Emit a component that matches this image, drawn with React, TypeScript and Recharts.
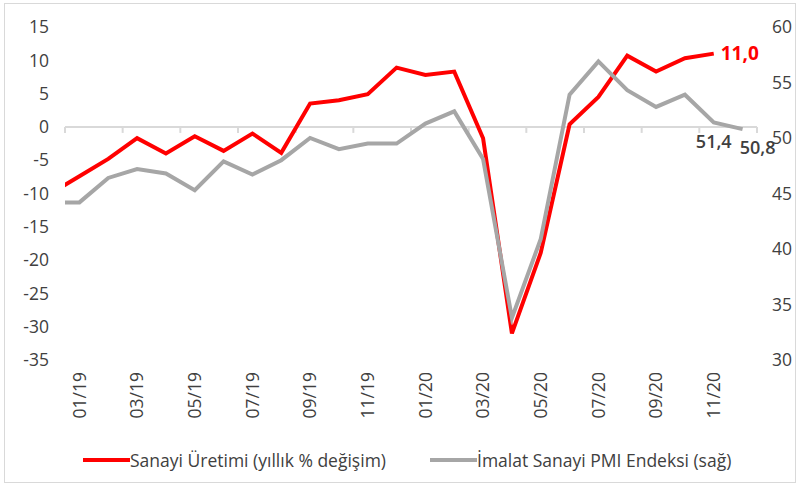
import { LineChart, Line, XAxis, YAxis, ReferenceLine, Legend, LabelList } from 'recharts';

// months shown on the category axis (12/18 only peeks in at the left edge)
const months = [
  '12/18', '01/19', '02/19', '03/19', '04/19', '05/19', '06/19', '07/19', '08/19', '09/19', '10/19', '11/19', '12/19',
  '01/20', '02/20', '03/20', '04/20', '05/20', '06/20', '07/20', '08/20', '09/20', '10/20', '11/20', '12/20',
];

// Sanayi Üretimi, yıllık % değişim (left axis)
const sanayiUretimi = [
  -10.0, -7.4, -4.8, -1.7, -4.0, -1.4, -3.6, -1.0, -3.9, 3.5, 4.0, 4.9, 8.9,
  7.8, 8.3, -1.7, -31.0, -18.9, 0.4, 4.5, 10.7, 8.3, 10.3, 11.0, null,
];

// İmalat Sanayi PMI Endeksi (right axis)
const pmiEndeksi = [
  44.2, 44.2, 46.4, 47.2, 46.8, 45.3, 47.9, 46.7, 48.0, 50.0, 49.0, 49.5, 49.5,
  51.3, 52.4, 48.1, 33.8, 40.9, 53.9, 56.9, 54.3, 52.8, 53.9, 51.4, 50.8,
];

const leftTicks = [15, 10, 5, 0, -5, -10, -15, -20, -25, -30, -35];
const rightTicks = [60, 55, 50, 45, 40, 35, 30];
const labelIdx = [1, 3, 5, 7, 9, 11, 13, 15, 17, 19, 21, 23];

const data = months.map((m, i) => ({ idx: i, month: m, sanayi: sanayiUretimi[i], pmi: pmiEndeksi[i] }));

const FONT = '"Open Sans", sans-serif';
const TEXT = '#404040';
const RED = '#FF0000';
const GRAY = '#A6A6A6';
const AXIS = '#d9d9d9';

const fmt = (v: number) => v.toFixed(1).replace('.', ',');

const MonthTick = ({ x, y, payload }: any) => (
  <text
    x={x}
    y={y}
    transform={`rotate(-90 ${x} ${y})`}
    textAnchor="end"
    dy="0.36em"
    fill={TEXT}
    fontSize={17.5}
    fontFamily={FONT}
  >
    {months[payload.value]}
  </text>
);

// zero line acting as category axis, with a tick on every second category boundary
const ZeroAxis = ({ x1, y1, x2 }: any) => {
  const n = labelIdx.length;
  const step = (x2 - x1) / n;
  return (
    <g>
      <line x1={x1} y1={y1} x2={x2} y2={y1} stroke={AXIS} strokeWidth={2} />
      {Array.from({ length: n + 1 }, (_, k) => (
        <line key={k} x1={x1 + k * step} y1={y1} x2={x1 + k * step} y2={y1 + 6} stroke={AXIS} strokeWidth={2} />
      ))}
    </g>
  );
};

const RedLabel = ({ x, y, value, index }: any) => {
  if (index !== 23) return null;
  return (
    <text x={x + 7} y={y} dy="0.35em" fill={RED} fontSize={19} fontWeight="bold" fontFamily={FONT}>
      {fmt(value)}
    </text>
  );
};

const GrayLabel = ({ x, y, value, index }: any) => {
  if (index < 23) return null;
  const shift = index === 24 ? 15 : 0;
  return (
    <text x={x + shift} y={y + 19} dy="0.35em" textAnchor="middle" fill={TEXT} fontSize={18} fontWeight={600} fontFamily={FONT}>
      {fmt(value)}
    </text>
  );
};

const renderLegend = () => (
  <div style={{ display: 'flex', alignItems: 'center', height: 50, fontFamily: FONT, fontSize: 17.5, color: TEXT }}>
    <div style={{ marginLeft: 83, width: 47, height: 4, background: RED }} />
    <span style={{ width: 300 }}>Sanayi Üretimi (yıllık % değişim)</span>
    <div style={{ width: 47, height: 4, background: GRAY }} />
    <span>İmalat Sanayi PMI Endeksi (sağ)</span>
  </div>
);

export default function App() {
  return (
    <div style={{ position: 'absolute', left: 0, top: 0, width: 800, height: 485, background: '#fff' }}>
      <div
        style={{
          position: 'absolute', left: 4, top: 3, width: 792, height: 480,
          border: '1.5px solid #d9d9d9', boxSizing: 'border-box',
        }}
      />
      <LineChart width={800} height={485} data={data} margin={{ top: 27, right: 0, bottom: 0, left: 0 }}>
        <XAxis
          dataKey="idx"
          type="number"
          domain={[0.5, months.length - 0.5]}
          ticks={labelIdx}
          allowDataOverflow
          interval={0}
          axisLine={false}
          tickLine={false}
          tickSize={0}
          tickMargin={12}
          height={75}
          tick={<MonthTick />}
        />
        <YAxis
          yAxisId="left"
          domain={[-35, 15]}
          ticks={leftTicks}
          interval={0}
          width={65}
          axisLine={false}
          tickLine={false}
          tickSize={0}
          tickMargin={16}
          tick={{ fill: TEXT, fontSize: 17.5, fontFamily: FONT }}
        />
        <YAxis
          yAxisId="right"
          orientation="right"
          domain={[30, 60]}
          ticks={rightTicks}
          interval={0}
          width={43}
          axisLine={false}
          tickLine={false}
          tickSize={0}
          tickMargin={15}
          tick={{ fill: TEXT, fontSize: 17.5, fontFamily: FONT, textAnchor: 'start' }}
        />
        <ReferenceLine yAxisId="left" y={0} shape={<ZeroAxis />} />
        <Line
          yAxisId="left"
          dataKey="sanayi"
          stroke={RED}
          strokeWidth={4}
          dot={false}
          connectNulls={false}
          isAnimationActive={false}
        >
          <LabelList dataKey="sanayi" content={<RedLabel />} />
        </Line>
        <Line
          yAxisId="right"
          dataKey="pmi"
          stroke={GRAY}
          strokeWidth={4}
          dot={false}
          isAnimationActive={false}
        >
          <LabelList dataKey="pmi" content={<GrayLabel />} />
        </Line>
        <Legend verticalAlign="bottom" content={renderLegend} wrapperStyle={{ left: 0, width: 800 }} />
      </LineChart>
    </div>
  );
}
